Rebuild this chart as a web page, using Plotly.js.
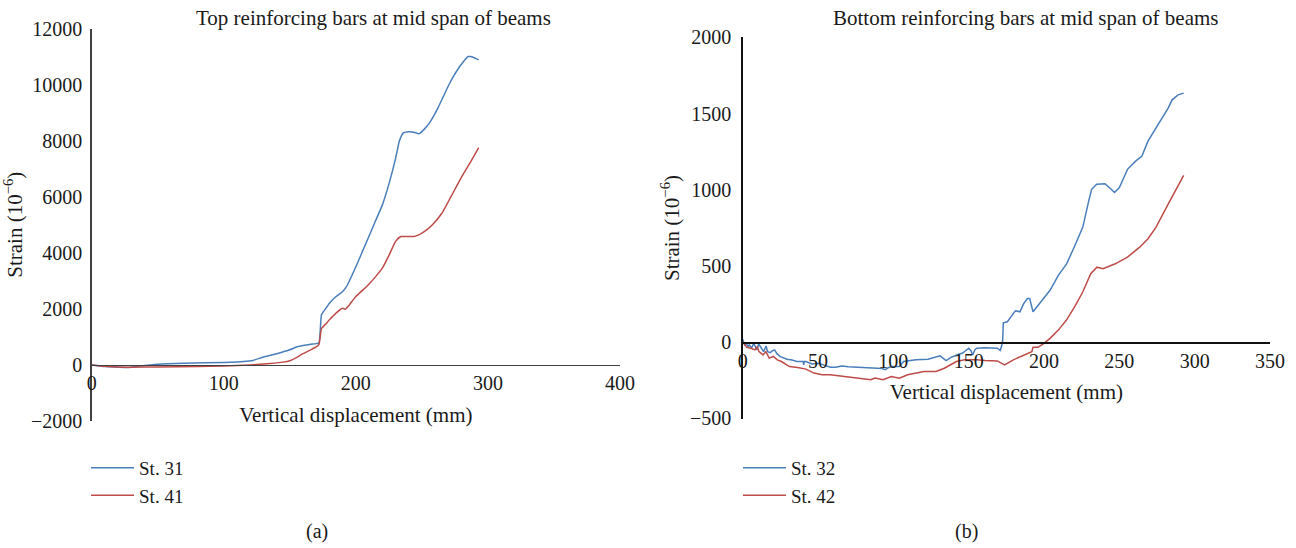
<!DOCTYPE html>
<html>
<head>
<meta charset="utf-8">
<script src="https://cdn.plot.ly/plotly-3.0.1.min.js"></script>
<style>
  html, body { margin: 0; padding: 0; background: #fff; }
  #chart { width: 1296px; height: 548px; }
</style>
</head>
<body>
<div id="chart"></div>
<script>
// (a) Top reinforcing bars at mid span: vertical displacement (mm) vs strain (10^-6)
const dispSt31 = [0, 5, 10, 20, 28, 35, 50, 70, 100, 115, 122, 130, 140, 150, 155, 160, 165, 170, 172, 173, 174, 177, 180, 185, 190, 193, 200, 205, 210, 215, 220, 225, 230, 233, 236, 240, 244, 248, 252, 256, 262, 266, 270, 274, 278, 282, 285, 287, 290, 293];
const strainSt31 = [0, -30, -60, -80, -90, -50, 20, 60, 90, 120, 160, 280, 400, 540, 640, 690, 730, 760, 780, 1200, 1790, 2000, 2200, 2440, 2620, 2800, 3500, 4050, 4600, 5150, 5700, 6450, 7350, 8000, 8280, 8320, 8300, 8250, 8420, 8650, 9150, 9550, 9950, 10300, 10600, 10850, 11000, 11000, 10950, 10880];

const dispSt41 = [0, 10, 20, 30, 50, 80, 100, 120, 135, 145, 150, 155, 160, 165, 170, 172, 173, 174, 177, 180, 185, 190, 192, 195, 200, 205, 210, 215, 220, 225, 230, 234, 238, 244, 248, 252, 258, 265, 268, 272, 280, 287, 293];
const strainSt41 = [0, -50, -70, -80, -70, -60, -40, 0, 50, 100, 150, 260, 400, 520, 640, 720, 1000, 1300, 1450, 1610, 1850, 2020, 1990, 2140, 2440, 2660, 2890, 3150, 3450, 3900, 4400, 4580, 4580, 4580, 4650, 4760, 5000, 5400, 5650, 6000, 6700, 7250, 7750];

// (b) Bottom reinforcing bars at mid span
const dispSt32 = [0, 0.7, 1.3, 2.4, 3.5, 4.4, 5.8, 7.3, 8.4, 9.5, 10.6, 11.7, 12.8, 13.9, 15.5, 16.6, 18.4, 19.5, 21.2, 22.8, 25, 27.2, 29.4, 32.7, 36, 40.2, 40.5, 40.9, 42, 46, 50.4, 54, 58.2, 61.5, 65.9, 70, 74.8, 80, 83.6, 88, 92.5, 94.6, 97, 99, 102, 104, 106.8, 110, 114.9, 119, 123, 127, 131, 135, 138, 142, 146, 150, 151.5, 152.7, 154, 155.4, 160.8, 165, 169, 171, 172.5, 173, 175.7, 178, 181, 184, 186.5, 189, 190.5, 192.7, 196, 200, 204, 209.5, 215, 220, 225.7, 229.7, 231.6, 235, 240.5, 244.6, 246.8, 250, 255.4, 260.8, 265, 269, 277, 282.4, 285, 289, 292.7];
const strainSt32 = [20, 4, -17, -7, -28, -17, -39, -7, -28, -50, -11, -28, -50, -61, -24, -61, -68, -57, -50, -76, -94, -105, -111, -116, -126, -126, -148, -126, -126, -142, -137, -150, -163, -163, -155, -160, -163, -165, -170, -168, -172, -180, -165, -159, -160, -159, -126, -120, -115, -113, -111, -100, -89, -120, -100, -83, -70, -39, -55, -83, -50, -39, -35, -37, -39, -54, 0, 128, 135, 167, 207, 200, 254, 287, 287, 200, 243, 287, 341, 439, 515, 624, 754, 928, 1004, 1037, 1041, 1004, 983, 1015, 1135, 1189, 1222, 1320, 1450, 1537, 1591, 1624, 1635];

const dispSt42 = [0, 1.4, 2.7, 5.4, 8.1, 9.5, 10.8, 13.5, 15.4, 17.6, 20.3, 23, 25.7, 31, 36.5, 41.9, 47.3, 52.7, 58.1, 63.5, 71.6, 79.7, 85.1, 87.8, 93.2, 98.6, 104, 109.5, 114.9, 120.3, 128.4, 133.8, 141.9, 147.3, 155.4, 160.8, 169, 173.8, 179.7, 185.1, 189.2, 191.9, 192.7, 196, 200, 204, 209.5, 214.9, 220.3, 225.7, 231, 235.1, 239.2, 241.9, 247.3, 255.4, 263.5, 268.9, 274.3, 282.4, 287.8, 292.7];
const strainSt42 = [4, -17, -33, -39, -50, -28, -61, -83, -61, -104, -93, -115, -126, -159, -165, -176, -202, -213, -213, -220, -230, -235, -246, -235, -246, -224, -235, -213, -202, -191, -191, -170, -126, -115, -115, -120, -122, -148, -115, -93, -72, -61, -33, -33, -7, 26, 80, 146, 233, 330, 450, 493, 483, 493, 515, 559, 624, 678, 754, 907, 1004, 1096];

const seriesNames = ['St. 31', 'St. 41', 'St. 32', 'St. 42'];
const panelTitles = ['Top reinforcing bars at mid span of beams', 'Bottom reinforcing bars at mid span of beams'];
const panelTags = ['(a)', '(b)'];

const FONT = "'Liberation Serif', 'Times New Roman', serif";
const BLUE = '#4a7ebb';
const RED = '#be4b48';
const INK = '#1a1a1a';

function font(size) { return { family: FONT, size: size, color: INK }; }

function line(x, y, name, color, xa, ya, leg, smooth) {
  const ln = { color: color, width: 1.5 };
  if (smooth) { ln.shape = 'spline'; ln.smoothing = 0.5; }
  return {
    x: x, y: y, name: name, type: 'scatter', mode: 'lines',
    line: ln, xaxis: xa, yaxis: ya, legend: leg
  };
}

const traces = [
  line(dispSt31, strainSt31, seriesNames[0], BLUE, 'x', 'y', 'legend', true),
  line(dispSt41, strainSt41, seriesNames[1], RED, 'x', 'y', 'legend', true),
  line(dispSt32, strainSt32, seriesNames[2], BLUE, 'x2', 'y2', 'legend2', false),
  line(dispSt42, strainSt42, seriesNames[3], RED, 'x2', 'y2', 'legend2', false)
];

// x axes sit on the y = 0 line of their panel
function xAx(range, dtick, domain, pos, lineColor, labelGap, standoff) {
  return {
    domain: domain, range: range, dtick: dtick, tick0: 0,
    anchor: 'free', position: pos,
    showline: true, linecolor: lineColor, linewidth: 1.5,
    showgrid: false, zeroline: false, ticks: '',
    tickfont: font(20), tickformat: 'd', ticklabelstandoff: labelGap, automargin: false,
    title: { text: 'Vertical displacement (mm)', font: font(21), standoff: standoff }
  };
}
function yAx(range, dtick, domain, anchor, lineColor, labelGap, standoff) {
  return {
    domain: domain, range: range, dtick: dtick, tick0: 0,
    anchor: anchor,
    showline: true, linecolor: lineColor, linewidth: 1.5,
    showgrid: false, zeroline: false, ticks: '',
    tickfont: font(20), tickformat: 'd', exponentformat: 'none', ticklabelstandoff: labelGap, automargin: false,
    title: { text: 'Strain (10<sup>−6</sup>)', font: font(21), standoff: standoff }
  };
}

function legendAt(x) {
  return {
    x: x, y: 0.181, xanchor: 'left', yanchor: 'top',
    font: font(19), bgcolor: 'rgba(0,0,0,0)', itemwidth: 43, tracegroupgap: 0
  };
}

function paperText(text, px, py, size) {
  return {
    text: text, x: px / 1296, y: 1 - py / 548, xref: 'paper', yref: 'paper',
    xanchor: 'center', yanchor: 'middle', showarrow: false, font: font(size)
  };
}

const layout = {
  width: 1296, height: 548,
  margin: { l: 0, r: 0, t: 0, b: 0 },
  paper_bgcolor: '#ffffff', plot_bgcolor: 'rgba(0,0,0,0)',
  font: font(20),
  showlegend: true,
  xaxis: xAx([0, 400], 100, [0.07076, 0.47840], 0.33407, '#404040', 0, 14),
  yaxis: yAx([-2000, 12000], 2000, [0.23175, 0.94799], 'x', '#404040', 4, 3),
  xaxis2: xAx([0, 350], 50, [0.57307, 0.97994], 0.37536, '#111111', 0, 13),
  yaxis2: yAx([-500, 2000], 500, [0.23631, 0.93157], 'x2', '#111111', 6, 4),
  legend: legendAt(0.0664),
  legend2: legendAt(0.5694),
  annotations: [
    paperText(panelTitles[0], 373, 18, 21),
    paperText(panelTitles[1], 1026, 18, 21),
    paperText(panelTags[0], 317, 531, 20),
    paperText(panelTags[1], 966, 531, 20)
  ]
};

Plotly.newPlot('chart', traces, layout, { staticPlot: true, displayModeBar: false });
</script>
</body>
</html>
